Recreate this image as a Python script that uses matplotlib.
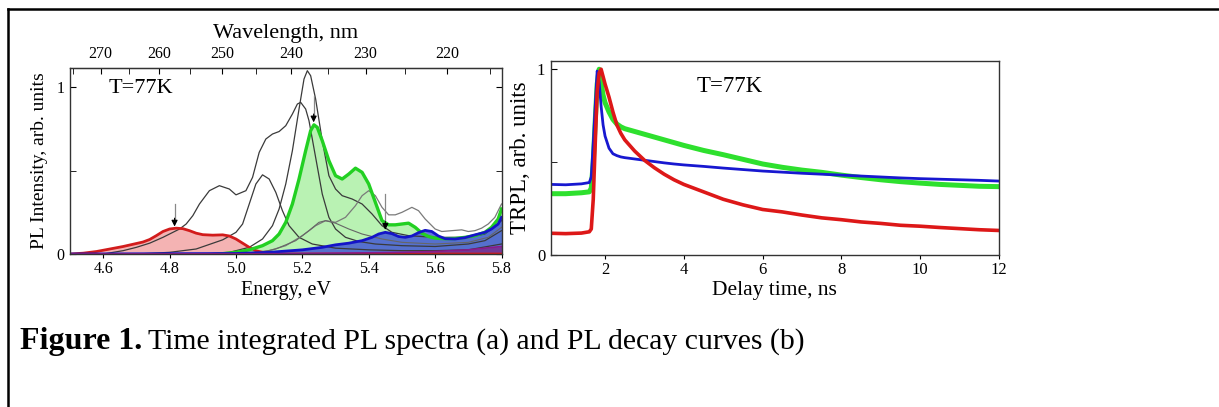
import numpy as np
import matplotlib
matplotlib.use("Agg")
import matplotlib.pyplot as plt
from matplotlib.lines import Line2D
from matplotlib.ticker import FixedLocator, NullFormatter

plt.rcParams['font.family'] = ['Liberation Serif', 'DejaVu Serif']

# ---------------- Panel (a): PL spectra ----------------
red_E = [4.50, 4.54, 4.58, 4.62, 4.66, 4.70, 4.72, 4.74, 4.76, 4.78, 4.80, 4.82, 4.84, 4.86,
         4.88, 4.90, 4.93, 4.96, 4.98, 5.00, 5.02, 5.04, 5.06, 5.08, 5.10, 5.15, 5.80]
red_I = [0.0, 0.005, 0.015, 0.03, 0.045, 0.063, 0.072, 0.087, 0.11, 0.135, 0.15, 0.155, 0.152, 0.14,
         0.125, 0.116, 0.113, 0.115, 0.108, 0.09, 0.065, 0.04, 0.02, 0.01, 0.004, 0.0, 0.0]

green_E = [4.95, 5.00, 5.04, 5.08, 5.11, 5.13, 5.15, 5.17, 5.19, 5.21, 5.225, 5.235, 5.245, 5.26,
           5.28, 5.30, 5.32, 5.34, 5.36, 5.38, 5.40, 5.42, 5.44, 5.46, 5.48, 5.50, 5.52, 5.54,
           5.56, 5.58, 5.60, 5.63, 5.66, 5.69, 5.72, 5.75, 5.77, 5.79, 5.80]
green_I = [0.0, 0.01, 0.025, 0.05, 0.08, 0.12, 0.19, 0.30, 0.45, 0.62, 0.74, 0.775, 0.76, 0.68,
           0.56, 0.47, 0.45, 0.48, 0.515, 0.49, 0.42, 0.31, 0.20, 0.175, 0.175, 0.18, 0.185, 0.16,
           0.125, 0.105, 0.095, 0.092, 0.093, 0.10, 0.11, 0.13, 0.16, 0.21, 0.27]

blue_E = [4.50, 5.00, 5.10, 5.20, 5.26, 5.30, 5.34, 5.38, 5.41, 5.43, 5.45, 5.47, 5.49, 5.51,
          5.53, 5.55, 5.57, 5.59, 5.61, 5.63, 5.66, 5.69, 5.72, 5.75, 5.77, 5.79, 5.80]
blue_I = [0.0, 0.003, 0.01, 0.025, 0.04, 0.055, 0.065, 0.08, 0.10, 0.12, 0.13, 0.122, 0.105, 0.10,
          0.108, 0.128, 0.142, 0.135, 0.108, 0.092, 0.09, 0.098, 0.115, 0.13, 0.15, 0.18, 0.22]

purple_E = [4.50, 5.20, 5.50, 5.60, 5.70, 5.80]
purple_I = [0.0, 0.002, 0.01, 0.015, 0.025, 0.045]

blackA_E = [4.60, 4.66, 4.70, 4.74, 4.78, 4.81, 4.83, 4.85, 4.87, 4.89, 4.92, 4.95, 4.98, 5.00,
            5.03, 5.05, 5.07, 5.09, 5.11, 5.13, 5.15, 5.17, 5.185, 5.195, 5.21, 5.22, 5.24, 5.26,
            5.28, 5.30, 5.33, 5.37, 5.42, 5.50, 5.60, 5.70, 5.75, 5.80]
blackA_I = [0.0, 0.02, 0.04, 0.065, 0.10, 0.13, 0.15, 0.18, 0.23, 0.30, 0.38, 0.41, 0.39, 0.355,
            0.38, 0.46, 0.61, 0.69, 0.72, 0.735, 0.77, 0.84, 0.90, 0.91, 0.87, 0.80, 0.58, 0.36,
            0.22, 0.15, 0.10, 0.075, 0.06, 0.05, 0.045, 0.06, 0.08, 0.14]

blackB_E = [4.70, 4.80, 4.88, 4.96, 5.00, 5.02, 5.04, 5.06, 5.08, 5.10, 5.12, 5.14, 5.16, 5.19,
            5.23, 5.30, 5.40, 5.50, 5.60, 5.70, 5.80]
blackB_I = [0.0, 0.01, 0.03, 0.085, 0.13, 0.18, 0.30, 0.42, 0.475, 0.45, 0.37, 0.26, 0.17, 0.10,
            0.06, 0.035, 0.025, 0.02, 0.02, 0.025, 0.06]

blackC_E = [4.90, 4.98, 5.04, 5.08, 5.11, 5.13, 5.15, 5.17, 5.19, 5.205, 5.215, 5.225, 5.24,
            5.26, 5.28, 5.30, 5.32, 5.35, 5.38, 5.41, 5.44, 5.47, 5.52, 5.60, 5.70, 5.75, 5.80]
blackC_I = [0.0, 0.01, 0.04, 0.09, 0.17, 0.27, 0.42, 0.62, 0.87, 1.05, 1.10, 1.07, 0.93,
            0.68, 0.47, 0.39, 0.35, 0.33, 0.30, 0.24, 0.17, 0.13, 0.11, 0.10, 0.10, 0.12, 0.20]

grayA_E = [5.00, 5.10, 5.15, 5.20, 5.24, 5.27, 5.30, 5.33, 5.36, 5.38, 5.40, 5.42, 5.44, 5.46,
           5.48, 5.50, 5.53, 5.55, 5.57, 5.60, 5.62, 5.65, 5.68, 5.70, 5.72, 5.74, 5.76, 5.78, 5.80]
grayA_I = [0.0, 0.02, 0.05, 0.11, 0.17, 0.20, 0.19, 0.22, 0.29, 0.35, 0.38, 0.35, 0.28, 0.235,
           0.235, 0.25, 0.28, 0.26, 0.21, 0.15, 0.135, 0.14, 0.145, 0.135, 0.14, 0.155, 0.18, 0.22, 0.30]

grayB_E = [5.05, 5.12, 5.18, 5.22, 5.25, 5.27, 5.30, 5.34, 5.38, 5.44, 5.50, 5.60, 5.70, 5.76, 5.80]
grayB_I = [0.0, 0.03, 0.08, 0.14, 0.19, 0.20, 0.185, 0.15, 0.12, 0.09, 0.07, 0.06, 0.07, 0.10, 0.16]

arrow_E = [4.815, 5.234, 5.45]
arrow_top = [0.30, 0.95, 0.36]
arrow_tip = [0.165, 0.79, 0.145]

wl_major = [270, 260, 250, 240, 230, 220]
wl_minor = [275, 265, 255, 245, 235, 225, 215]

# ---------------- Panel (b): TRPL decays ----------------
t_ns = [0.62, 1.0, 1.4, 1.6, 1.65, 1.70, 1.75, 1.80, 1.85, 1.90, 1.95, 2.0, 2.1, 2.2, 2.3,
        2.4, 2.5, 2.75, 3.0, 3.25, 3.5, 3.75, 4.0, 4.5, 5.0, 5.5, 6.0, 6.5, 7.0, 7.5, 8.0,
        8.5, 9.0, 9.5, 10.0, 10.5, 11.0, 11.5, 12.0]
trpl_red = [0.117, 0.115, 0.118, 0.125, 0.14, 0.30, 0.60, 0.88, 0.98, 1.0, 0.96, 0.92, 0.85, 0.77,
            0.70, 0.655, 0.62, 0.56, 0.51, 0.47, 0.435, 0.405, 0.38, 0.34, 0.30, 0.27, 0.245,
            0.232, 0.215, 0.20, 0.19, 0.178, 0.17, 0.16, 0.155, 0.148, 0.142, 0.136, 0.132]
trpl_green = [0.33, 0.33, 0.335, 0.34, 0.36, 0.50, 0.72, 0.92, 1.0, 0.93, 0.86, 0.82, 0.77, 0.73,
              0.705, 0.69, 0.68, 0.665, 0.65, 0.635, 0.62, 0.605, 0.59, 0.563, 0.54, 0.515, 0.49,
              0.472, 0.457, 0.445, 0.43, 0.417, 0.405, 0.395, 0.387, 0.38, 0.375, 0.37, 0.368]
trpl_blue = [0.38, 0.378, 0.383, 0.39, 0.42, 0.60, 0.80, 0.99, 0.93, 0.80, 0.70, 0.64, 0.575, 0.545,
             0.535, 0.528, 0.524, 0.517, 0.51, 0.503, 0.496, 0.49, 0.485, 0.477, 0.468, 0.46, 0.452,
             0.446, 0.44, 0.435, 0.43, 0.425, 0.42, 0.415, 0.411, 0.408, 0.405, 0.402, 0.398]

W, H = 1219, 407
fig = plt.figure(figsize=(W / 100, H / 100), dpi=100)

def fx(px):
    return px / W

def fy(py):
    return 1 - py / H

# ---- axes (a)
axa = fig.add_axes([fx(70), fy(254), fx(501.5) - fx(70), fy(67.7) - fy(254)])
axa.set_xlim(4.5, 5.8)
axa.set_ylim(0, 1.118)

axa.fill_between(red_E, red_I, 0, color='#f4b3b3', lw=0)
axa.fill_between(green_E, green_I, 0, color='#b9f2b3', lw=0)
for xs, ys, c, lw in [(blackA_E, blackA_I, '#3a3a3a', 0.9), (blackB_E, blackB_I, '#3a3a3a', 0.9),
                      (blackC_E, blackC_I, '#3a3a3a', 0.9), (grayA_E, grayA_I, '#7a7a7a', 0.9),
                      (grayB_E, grayB_I, '#666666', 0.8)]:
    axa.plot(xs, ys, color=c, lw=lw)
axa.plot(red_E, red_I, color='#d21c1c', lw=2.0)
axa.plot(green_E, green_I, color='#22d022', lw=2.4)
axa.fill_between(blue_E, blue_I, 0, color='#3444d8', alpha=0.75, lw=0)
axa.plot(blue_E, blue_I, color='#1414c8', lw=2.0)
axa.fill_between(purple_E, purple_I, 0, color='#7a2a8a', alpha=0.8, lw=0)
axa.plot(purple_E, purple_I, color='#8a1a8a', lw=1.2)

for e, ytop, ytip in zip(arrow_E, arrow_top, arrow_tip):
    axa.plot([e, e], [ytop, ytip + 0.03], color='#888888', lw=0.9)
    axa.annotate('', xy=(e, ytip), xytext=(e, ytip + 0.05),
                 arrowprops=dict(arrowstyle='-|>', color='black', lw=0.8,
                                 mutation_scale=9, shrinkA=0, shrinkB=0))

axa.set_xticks([4.6, 4.8, 5.0, 5.2, 5.4, 5.6, 5.8])
axa.set_xticklabels(['4.6', '4.8', '5.0', '5.2', '5.4', '5.6', '5.8'])
axa.set_yticks([0, 1])
axa.set_yticklabels(['0', '1'])
axa.yaxis.set_minor_locator(FixedLocator([0.5]))
axa.tick_params(axis='x', which='both', direction='out', length=3, labelsize=11.5, pad=2)
axa.tick_params(axis='y', which='both', direction='in', length=4, labelsize=11.5,
                right=True, pad=4)
axa.set_xlabel('Energy, eV', fontsize=14.5, labelpad=3)
axa.set_ylabel('PL Intensity, arb. units', fontsize=14, labelpad=6)
axa.text(0.09, 0.886, 'T=77K', transform=axa.transAxes, fontsize=16, va='center', ha='left')

conv = 1239.84
def e2l(x):
    x = np.asarray(x, dtype=float)
    return conv / np.where(np.abs(x) < 1e-9, 1e-9, x)

sec = axa.secondary_xaxis('top', functions=(e2l, e2l))
sec.set_xticks(wl_major)
sec.set_xticklabels([str(v) for v in wl_major])
sec.xaxis.set_minor_locator(FixedLocator(wl_minor))
sec.xaxis.set_minor_formatter(NullFormatter())
sec.tick_params(axis='x', which='both', direction='in', length=4, labelsize=11.5, pad=4)
sec.set_xlabel('Wavelength, nm', fontsize=16, labelpad=6)

for s in axa.spines.values():
    s.set_linewidth(1.0)
    s.set_color('#333333')

# ---- axes (b)
axb = fig.add_axes([fx(550.7), fy(255), fx(999) - fx(550.7), fy(60.7) - fy(255)])
axb.set_xlim(0.62, 12)
axb.set_ylim(0, 1.046)
axb.plot(t_ns, trpl_green, color='#2ee02e', lw=3.6, solid_joinstyle='round')
axb.plot(t_ns, trpl_blue, color='#1818d0', lw=2.0, solid_joinstyle='round')
axb.plot(t_ns, trpl_red, color='#dd1818', lw=2.6, solid_joinstyle='round')
axb.set_xticks([2, 4, 6, 8, 10, 12])
axb.set_xticklabels(['2', '4', '6', '8', '10', '12'])
axb.set_yticks([0, 1])
axb.set_yticklabels(['0', '1'])
axb.yaxis.set_minor_locator(FixedLocator([0.5]))
axb.tick_params(axis='x', which='both', direction='out', length=3, labelsize=12, pad=2)
axb.tick_params(axis='y', which='both', direction='in', length=4, labelsize=12, pad=4)
axb.set_xlabel('Delay time, ns', fontsize=15.5, labelpad=2)
axb.set_ylabel('TRPL, arb. units', fontsize=16.5, labelpad=4)
axb.text(730 / W, fy(87), 'T=77K', transform=fig.transFigure, fontsize=16.5,
         va='center', ha='center')
for s in axb.spines.values():
    s.set_linewidth(1.0)
    s.set_color('#333333')

# ---- caption and frame
cap = fig.text(fx(20), fy(342), 'Figure 1.', fontsize=23, va='center', ha='left',
               fontweight='bold')
fig.canvas.draw()
bb = cap.get_window_extent()
fig.text(bb.x1 / W + 6 / W, fy(342),
         'Time integrated PL spectra (a) and PL decay curves (b)',
         fontsize=21.4, va='center', ha='left')

fig.add_artist(Line2D([fx(8), 1.0], [fy(9), fy(9)], transform=fig.transFigure,
                      color='black', lw=1.8))
fig.add_artist(Line2D([fx(8), fx(8)], [fy(9), 0.0], transform=fig.transFigure,
                      color='black', lw=1.8))

fig.savefig('out.png', dpi=100)
